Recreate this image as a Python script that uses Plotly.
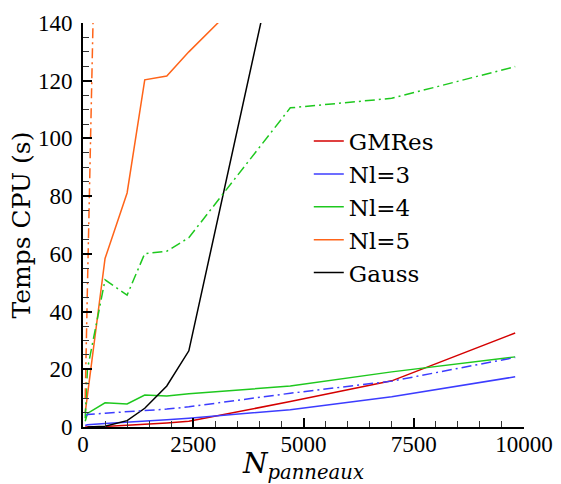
import plotly.graph_objects as go

# Data
N = [50, 100, 500, 1000, 1400, 1900, 2400, 4700, 7000, 9800]
gmres = [0.0, 0.05, 0.2, 0.6, 0.9, 1.4, 2.0, 8.8, 16.0, 32.6]
nl3 = [0.5, 0.8, 1.2, 1.6, 2.0, 2.5, 3.0, 6.0, 10.5, 17.4]
nl4 = [2.0, 4.7, 8.4, 8.0, 11.1, 10.7, 11.5, 14.2, 19.1, 24.3]
N_nl5 = [50, 500, 1000, 1400, 1900, 2400, 4700]
nl5 = [5.0, 58.4, 81.1, 120.3, 121.6, 130.0, 165.0]
N_gauss = [100, 500, 1000, 1400, 1900, 2400, 4700]
gauss = [0.0, 0.3, 2.2, 6.5, 14.2, 26.4, 186.6]

# dash-dot series (no legend entry)
nl3_dd = [3.8, 4.3, 4.8, 5.3, 5.9, 6.2, 7.0, 11.7, 15.9, 24.1]
nl4_dd = [3.0, 20.0, 51.0, 45.7, 60.1, 60.9, 65.6, 110.6, 113.9, 124.9]
N_nl5_dd = [50, 100, 500]
nl5_dd = [10.0, 48.0, 338.0]

x_ticks = [0, 2500, 5000, 7500, 10000]
y_ticks = [0, 20, 40, 60, 80, 100, 120, 140]

RED = "#d40000"
BLUE = "#3c3cff"
GREEN = "#1ec81e"
ORANGE = "#ff6419"
BLACK = "#000000"
DD = "10px,4px,2px,4px"
TICKFONT = "Liberation Serif"
FONT = "DejaVu Serif"

fig = go.Figure()
fig.add_trace(go.Scatter(x=N, y=gmres, mode="lines", name="GMRes",
                         line=dict(color=RED, width=1.5)))
fig.add_trace(go.Scatter(x=N, y=nl3, mode="lines", name="Nl=3",
                         line=dict(color=BLUE, width=1.5)))
fig.add_trace(go.Scatter(x=N, y=nl4, mode="lines", name="Nl=4",
                         line=dict(color=GREEN, width=1.5)))
fig.add_trace(go.Scatter(x=N_nl5, y=nl5, mode="lines", name="Nl=5",
                         line=dict(color=ORANGE, width=1.5)))
fig.add_trace(go.Scatter(x=N_gauss, y=gauss, mode="lines", name="Gauss",
                         line=dict(color=BLACK, width=1.5)))
fig.add_trace(go.Scatter(x=N, y=nl3_dd, mode="lines", showlegend=False,
                         line=dict(color=BLUE, width=1.5, dash=DD)))
fig.add_trace(go.Scatter(x=N, y=nl4_dd, mode="lines", showlegend=False,
                         line=dict(color=GREEN, width=1.5, dash=DD)))
fig.add_trace(go.Scatter(x=N_nl5_dd, y=nl5_dd, mode="lines", showlegend=False,
                         line=dict(color=ORANGE, width=1.5, dash=DD)))

axis_common = dict(
    showgrid=False, zeroline=False, showline=True, linecolor="black",
    linewidth=2, ticks="inside", tickwidth=2, tickcolor="black", ticklen=9,
    tickfont=dict(family=TICKFONT, size=23, color="black"),
    mirror=False, automargin=False,
)

fig.update_xaxes(range=[0, 10000], tickvals=x_ticks,
                 ticktext=[str(v) for v in x_ticks],
                 minor=dict(dtick=500, ticks="inside", ticklen=6, tickwidth=1,
                            tickcolor="#333"),
                 title=dict(text="<i>N</i><sub><i>panneaux</i></sub>",
                            font=dict(family=FONT, size=28, color="black"),
                            standoff=0),
                 ticklabelstandoff=-5,
                 **axis_common)
fig.update_yaxes(range=[0, 140], tickvals=y_ticks,
                 ticktext=[str(v) for v in y_ticks],
                 minor=dict(dtick=5, ticks="inside", ticklen=6, tickwidth=1,
                            tickcolor="#333"),
                 title=dict(text="Temps CPU (s)",
                            font=dict(family=FONT, size=25, color="black"),
                            standoff=0),
                 ticklabelstandoff=4,
                 **axis_common)

fig.update_layout(
    width=561, height=484,
    margin=dict(l=83, r=37, t=23, b=57, autoexpand=False),
    plot_bgcolor="white", paper_bgcolor="white",
    font=dict(family=FONT, color="black"),
    legend=dict(x=0.512, y=0.761, xanchor="left", yanchor="top",
                bgcolor="rgba(0,0,0,0)", borderwidth=0,
                font=dict(family=FONT, size=23, color="black"),
                tracegroupgap=0),
)

fig.write_html("out.html", config={"displayModeBar": False},
               post_script="document.body.style.margin='0';document.body.style.padding='0';")
